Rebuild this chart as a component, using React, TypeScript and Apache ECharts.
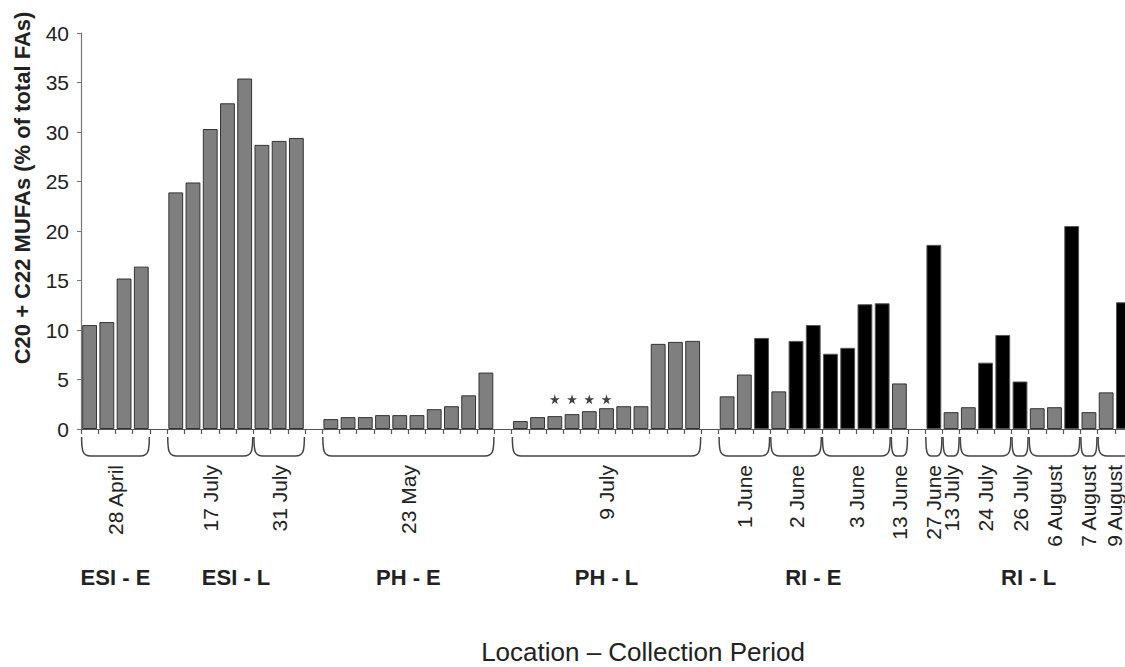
import React, { useEffect, useRef } from 'react';
import * as echarts from 'echarts';

// ---- data ----
const esiE = [10.5, 10.8, 15.2, 16.4];
const esiL = [23.9, 24.9, 30.3, 32.9, 35.4, 28.7, 29.1, 29.4];
const phE = [1.0, 1.2, 1.2, 1.4, 1.4, 1.4, 2.0, 2.3, 3.4, 5.7];
const phL = [0.8, 1.2, 1.3, 1.5, 1.8, 2.1, 2.3, 2.3, 8.6, 8.8, 8.9];
const riE = [3.3, 5.5, 9.2, 3.8, 8.9, 10.5, 7.6, 8.2, 12.6, 12.7, 4.6];
const riL = [18.6, 1.7, 2.2, 6.7, 9.5, 4.8, 2.1, 2.2, 20.5, 1.7, 3.7, 12.8];

// bar shade: g = grey, b = black
const riEShade = ['g', 'g', 'b', 'g', 'b', 'b', 'b', 'b', 'b', 'b', 'g'];
const riLShade = ['b', 'g', 'g', 'b', 'b', 'b', 'g', 'g', 'b', 'g', 'g', 'b'];

const groupNames = ['ESI - E', 'ESI - L', 'PH - E', 'PH - L', 'RI - E', 'RI - L'];

// collection dates within each group: [label, number of bars]
const esiEDates: [string, number][] = [['28 April', 4]];
const esiLDates: [string, number][] = [['17 July', 5], ['31 July', 3]];
const phEDates: [string, number][] = [['23 May', 10]];
const phLDates: [string, number][] = [['9 July', 11]];
const riEDates: [string, number][] = [['1 June', 3], ['2 June', 3], ['3 June', 4], ['13 June', 1]];
const riLDates: [string, number][] = [
  ['27 June', 1], ['13 July', 1], ['24 July', 3], ['26 July', 1],
  ['6 August', 3], ['7 August', 1], ['9 August', 2],
];

// PH - L bars flagged with an asterisk (position within the group), and marker height
const phLStarred = [2, 3, 4, 5];
const starLevel = 3.0;

const yTicks = [0, 5, 10, 15, 20, 25, 30, 35, 40];

const yTitle = 'C20 + C22 MUFAs (% of total FAs)';
const xTitle = 'Location \u2013 Collection Period';

const FONT = '"Liberation Sans", Arial, Helvetica, sans-serif';

function buildOption() {
  const groupValues = [esiE, esiL, phE, phL, riE, riL];
  const groupShades: (string[] | null)[] = [null, null, null, null, riEShade, riLShade];
  const groupDates = [esiEDates, esiLDates, phEDates, phLDates, riEDates, riLDates];

  const greyStyle = { color: '#7f7f7f', borderColor: '#333', borderWidth: 1 };
  const blackStyle = { color: '#000', borderColor: '#555', borderWidth: 1 };

  const cats: string[] = [];
  const bars: any[] = [];
  const brackets: { s: number; e: number; label: string }[] = [];
  const groups: { s: number; e: number; name: string }[] = [];

  groupValues.forEach((vals, gi) => {
    if (gi > 0) {
      cats.push('gap ' + gi);
      bars.push('-');
    }
    const start = cats.length;
    vals.forEach((v, i) => {
      cats.push(groupNames[gi] + ' #' + (i + 1));
      const shades = groupShades[gi];
      const shade = shades ? shades[i] : 'g';
      bars.push({ value: v, itemStyle: shade === 'b' ? blackStyle : greyStyle });
    });
    let pos = start;
    groupDates[gi].forEach(([label, n]) => {
      brackets.push({ s: pos, e: pos + n, label });
      pos += n;
    });
    groups.push({ s: start, e: start + vals.length, name: groupNames[gi] });
  });

  const stars = phLStarred.map((i) => [groups[3].s + i, starLevel]);

  const starPath =
    'path://M50,0 L61,35 L98,35 L68,57 L79,91 L50,70 L21,91 L32,57 L2,35 L39,35 Z';

  return {
    animation: false,
    backgroundColor: '#fff',
    grid: { left: 81, right: -7, top: 33, bottom: 238, containLabel: false, outerBoundsMode: 'none' },
    xAxis: {
      type: 'category',
      data: cats,
      boundaryGap: true,
      axisLine: { show: true, lineStyle: { color: '#555', width: 1.2 } },
      axisTick: { show: true, interval: 0, length: 5, lineStyle: { color: '#555', width: 1.2 } },
      axisLabel: { show: false },
      splitLine: { show: false },
    },
    yAxis: {
      type: 'value',
      min: yTicks[0],
      max: yTicks[yTicks.length - 1],
      interval: yTicks[1] - yTicks[0],
      axisLine: { show: true, lineStyle: { color: '#777', width: 1.2 } },
      axisTick: { show: true, length: 4, lineStyle: { color: '#777' } },
      axisLabel: { fontSize: 21, fontFamily: FONT, color: '#222', margin: 12 },
      splitLine: { show: false },
    },
    graphic: [
      {
        type: 'text',
        x: 22,
        y: 188,
        rotation: Math.PI / 2,
        style: {
          text: yTitle,
          fontSize: 22,
          fontWeight: 'bold',
          fontFamily: FONT,
          fill: '#222',
          align: 'center',
          verticalAlign: 'middle',
        },
      },
      {
        type: 'text',
        x: 643,
        y: 652,
        style: {
          text: xTitle,
          fontSize: 26,
          fontFamily: FONT,
          fill: '#222',
          align: 'center',
          verticalAlign: 'middle',
        },
      },
    ],
    series: [
      {
        type: 'bar',
        data: bars,
        barCategoryGap: '14%',
      },
      {
        type: 'scatter',
        data: stars,
        symbol: starPath,
        symbolSize: 10,
        itemStyle: { color: '#111' },
        z: 5,
      },
      {
        type: 'custom',
        clip: false,
        silent: true,
        encode: { x: [0, 1], y: 2 },
        data: brackets.map((b) => [b.s, b.e, 0]),
        renderItem: (params: any, api: any) => {
          const b = brackets[params.dataIndex];
          const w = api.size([1, 0])[0];
          const p0 = api.coord([b.s, 0]);
          const p1 = api.coord([b.e - 1, 0]);
          const xs = p0[0] - w / 2 + 0.6;
          const xe = p1[0] + w / 2 - 0.6;
          const y0 = p0[1];
          const top = y0 + 8;
          const bot = y0 + 27;
          const r = Math.min(9, (xe - xs) / 3);
          const d =
            `M${xs},${top} C${xs},${bot - 5} ${xs + 1},${bot} ${xs + r},${bot} ` +
            `L${xe - r},${bot} C${xe - 1},${bot} ${xe},${bot - 5} ${xe},${top}`;
          const cx = (xs + xe) / 2;
          return {
            type: 'group',
            children: [
              {
                type: 'path',
                shape: { pathData: d },
                style: { fill: 'none', stroke: '#444', lineWidth: 1.5 },
              },
              {
                type: 'text',
                x: cx,
                y: y0 + 36,
                rotation: Math.PI / 2,
                style: {
                  text: b.label,
                  fontSize: 21,
                  fontFamily: FONT,
                  fill: '#222',
                  align: 'right',
                  verticalAlign: 'middle',
                },
              },
            ],
          };
        },
      },
      {
        type: 'custom',
        clip: false,
        silent: true,
        encode: { x: [0, 1], y: 2 },
        data: groups.map((g) => [g.s, g.e, 0]),
        renderItem: (params: any, api: any) => {
          const g = groups[params.dataIndex];
          const w = api.size([1, 0])[0];
          const p0 = api.coord([g.s, 0]);
          const p1 = api.coord([g.e - 1, 0]);
          const cx = (p0[0] - w / 2 + p1[0] + w / 2) / 2;
          return {
            type: 'text',
            x: cx,
            y: p0[1] + 148,
            style: {
              text: g.name,
              fontSize: 22,
              fontWeight: 'bold',
              fontFamily: FONT,
              fill: '#222',
              align: 'center',
              verticalAlign: 'middle',
            },
          };
        },
      },
    ],
  };
}

export default function App() {
  const ref = useRef<HTMLDivElement>(null);
  useEffect(() => {
    if (!ref.current) return;
    const chart = echarts.init(ref.current, null, { renderer: 'svg' });
    chart.setOption(buildOption() as any);
    return () => chart.dispose();
  }, []);
  return (
    <div
      ref={ref}
      style={{ position: 'absolute', left: 0, top: 0, width: 1125, height: 667, background: '#fff' }}
    />
  );
}
